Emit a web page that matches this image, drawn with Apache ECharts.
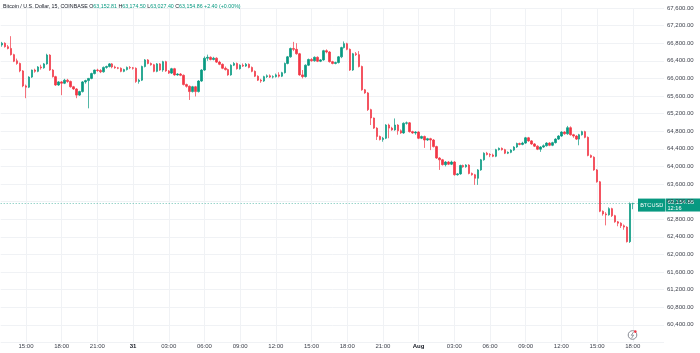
<!DOCTYPE html>
<html>
<head>
<meta charset="utf-8">
<script src="https://cdn.jsdelivr.net/npm/echarts@6/dist/echarts.min.js"></script>
<style>
  html, body { margin: 0; padding: 0; background: #fff; }
  #chart { width: 700px; height: 353px; }
</style>
</head>
<body>
<div id="chart"></div>
<script>
// BTCUSD 15 min candles, [open, close, low, high]
const jul30 = [
  [66760, 66800, 66720, 66830], [66800, 66720, 66700, 66820], [66720, 66680, 66660, 66760], [66680, 66540, 66520, 66960],
  [66540, 66390, 66370, 66560], [66400, 66340, 66310, 66450], [66340, 66170, 66140, 66360], [66170, 65830, 65800, 66190],
  [65830, 65800, 65550, 65860], [65800, 66030, 65780, 66050], [66030, 66190, 66010, 66200], [66190, 66160, 66130, 66220],
  [66160, 66260, 66140, 66280], [66260, 66240, 66200, 66310], [66240, 66330, 66220, 66350], [66330, 66530, 66310, 66560],
  [66530, 66190, 66170, 66550], [66190, 66040, 66020, 66210], [66040, 65850, 65830, 66060], [65850, 65920, 65830, 65940],
  [65920, 65890, 65620, 65940], [65890, 65960, 65870, 65990], [65960, 65930, 65900, 65990], [65930, 65810, 65790, 65950],
  [65810, 65760, 65740, 65830], [65760, 65620, 65550, 65780], [65620, 65700, 65600, 65720], [65700, 65920, 65680, 65940],
  [65920, 65950, 65880, 65970], [65950, 66000, 65320, 66010], [66000, 66110, 65980, 66130], [66110, 66190, 66090, 66200],
  [66190, 66180, 66150, 66220], [66180, 66150, 66120, 66210], [66150, 66250, 66130, 66270], [66250, 66270, 66220, 66290],
  [66270, 66330, 66250, 66350], [66330, 66260, 66230, 66350], [66260, 66240, 66220, 66290], [66240, 66230, 66210, 66260],
  [66230, 66160, 66140, 66250], [66160, 66200, 66140, 66220], [66200, 66250, 66180, 66270], [66250, 66240, 66210, 66280]
];

const jul31 = [
  [66240, 66230, 66200, 66260], [66230, 65930, 65900, 66250], [65930, 65960, 65880, 65990], [65960, 66270, 65940, 66290],
  [66270, 66420, 66250, 66440], [66420, 66340, 66320, 66440], [66340, 66310, 66290, 66360], [66310, 66160, 66140, 66330],
  [66160, 66330, 66140, 66350], [66330, 66190, 66170, 66350], [66190, 66380, 66150, 66400], [66380, 66170, 66150, 66400],
  [66170, 66120, 66100, 66190], [66120, 66220, 66100, 66240], [66220, 66080, 66060, 66240], [66080, 66100, 66060, 66120],
  [66100, 66070, 66050, 66120], [66070, 65860, 65840, 66090], [65860, 65820, 65790, 65880], [65820, 65700, 65510, 65840],
  [65700, 65810, 65680, 65830], [65810, 65700, 65590, 65830], [65700, 65940, 65680, 65960], [65940, 66190, 65920, 66210],
  [66190, 66460, 66170, 66500], [66460, 66480, 66400, 66540], [66480, 66430, 66410, 66500], [66430, 66460, 66410, 66490],
  [66460, 66370, 66350, 66480], [66370, 66320, 66300, 66400], [66320, 66230, 66210, 66340], [66230, 66200, 66180, 66270],
  [66200, 66080, 66060, 66220], [66080, 66300, 66060, 66320], [66300, 66340, 66280, 66370], [66340, 66220, 66200, 66360],
  [66220, 66300, 66200, 66320], [66300, 66280, 66260, 66340], [66280, 66320, 66260, 66350], [66320, 66250, 66230, 66340],
  [66250, 66160, 66140, 66270], [66160, 66050, 66030, 66180], [66050, 65960, 65940, 66070], [65960, 65940, 65900, 65990],
  [65940, 66040, 65920, 66060], [66040, 66060, 66010, 66090], [66060, 66030, 66010, 66090], [66030, 66040, 66000, 66070],
  [66040, 66080, 66020, 66110], [66080, 66050, 66020, 66140], [66050, 66130, 66030, 66150], [66130, 66340, 66110, 66360],
  [66340, 66490, 66320, 66510], [66490, 66680, 66470, 66700], [66680, 66660, 66620, 66830], [66660, 66560, 66540, 66800],
  [66560, 66080, 66060, 66580], [66080, 66040, 66000, 66190], [66040, 66300, 66020, 66320], [66300, 66430, 66280, 66450],
  [66430, 66400, 66380, 66460], [66400, 66480, 66380, 66500], [66480, 66390, 66370, 66500], [66390, 66420, 66370, 66440],
  [66420, 66630, 66400, 66650], [66630, 66600, 66570, 66660], [66600, 66380, 66360, 66620], [66380, 66340, 66320, 66400],
  [66340, 66360, 66320, 66380], [66360, 66490, 66340, 66510], [66490, 66700, 66460, 66720], [66700, 66790, 66680, 66840],
  [66790, 66660, 66640, 66810], [66660, 66190, 66170, 66680], [66190, 66560, 66170, 66580], [66560, 66540, 66510, 66600],
  [66540, 66270, 66250, 66620], [66270, 65740, 65720, 66290], [65740, 65670, 65650, 65760], [65670, 65290, 65260, 65690],
  [65290, 65100, 64940, 65310], [65100, 64870, 64850, 65110], [64870, 64680, 64600, 64890], [64680, 64610, 64590, 64700],
  [64610, 64640, 64560, 64670], [64640, 64940, 64620, 64960], [64940, 64870, 64640, 64970], [64870, 64830, 64810, 64900],
  [64830, 64940, 64810, 65090], [64940, 64810, 64720, 64960], [64810, 64760, 64740, 64840], [64760, 64980, 64740, 65000],
  [64980, 64990, 64950, 65020], [64990, 64790, 64770, 65010], [64790, 64760, 64740, 64810], [64760, 64780, 64720, 64800]
];

const aug1 = [
  [64780, 64640, 64620, 64800], [64640, 64680, 64620, 64700], [64680, 64600, 64420, 64700], [64600, 64630, 64580, 64650],
  [64630, 64600, 64370, 64650], [64600, 64450, 64430, 64620], [64450, 64190, 64170, 64470], [64190, 64150, 63920, 64210],
  [64150, 64040, 64020, 64170], [64040, 64100, 64000, 64120], [64100, 64050, 64030, 64120], [64050, 64100, 64030, 64130],
  [64100, 63810, 63790, 64120], [63810, 63830, 63790, 63850], [63830, 64020, 63810, 64040], [64020, 63990, 63970, 64040],
  [63990, 64030, 63970, 64050], [64030, 63840, 63820, 64050], [63840, 63810, 63790, 63860], [63810, 63730, 63580, 63830],
  [63730, 63920, 63580, 63940], [63920, 64150, 63900, 64170], [64150, 64300, 64130, 64320], [64300, 64270, 64250, 64330],
  [64270, 64260, 64210, 64300], [64260, 64230, 64210, 64290], [64230, 64380, 64210, 64400], [64380, 64410, 64360, 64430],
  [64410, 64380, 64360, 64430], [64380, 64300, 64280, 64400], [64300, 64320, 64280, 64340], [64320, 64370, 64300, 64390],
  [64370, 64440, 64350, 64460], [64440, 64520, 64420, 64540], [64520, 64500, 64480, 64540], [64500, 64530, 64480, 64560],
  [64530, 64650, 64510, 64670], [64650, 64580, 64560, 64670], [64580, 64510, 64490, 64600], [64510, 64460, 64440, 64530],
  [64460, 64390, 64370, 64480], [64390, 64440, 64330, 64460], [64440, 64470, 64420, 64500], [64470, 64530, 64450, 64550],
  [64530, 64480, 64460, 64550], [64480, 64540, 64460, 64560], [64540, 64620, 64520, 64640], [64620, 64690, 64600, 64710],
  [64690, 64780, 64670, 64800], [64780, 64740, 64720, 64800], [64740, 64880, 64720, 64920], [64880, 64720, 64700, 64910],
  [64720, 64690, 64650, 64740], [64690, 64620, 64600, 64710], [64620, 64720, 64480, 64740], [64720, 64790, 64700, 64810],
  [64790, 64660, 64640, 64810], [64660, 64250, 64230, 64680], [64250, 64210, 64190, 64270], [64210, 63920, 63900, 64230],
  [63920, 63650, 63630, 63940], [63650, 62980, 62960, 63670], [62980, 62920, 62880, 63000], [62920, 62900, 62660, 62960],
  [62900, 63040, 62880, 63070], [63040, 62880, 62850, 63060], [62880, 62740, 62720, 62900], [62740, 62710, 62640, 62760],
  [62710, 62650, 62600, 62730], [62650, 62620, 62560, 62680], [62620, 62290, 62270, 62640], [62290, 63152.46, 62260, 63180],
  [63152.81, 63154.86, 63027.40, 63174.50]
];

const symbolTitle = 'Bitcoin / U.S. Dollar, 15, COINBASE';
const symbolShort = 'BTCUSD';
const barCountdown = '12:16';
const firstBarTime = Date.UTC(2024, 6, 30, 13, 0);
const barMinutes = 15;
const emptyBarsRight = 10;
const monthNames = ['Jan', 'Feb', 'Mar', 'Apr', 'May', 'Jun', 'Jul', 'Aug', 'Sep', 'Oct', 'Nov', 'Dec'];

const upColor = '#089981';
const downColor = '#f23645';
const gridColor = '#f0f2f5';
const textColor = '#131722';
const font = 'Liberation Sans';
const titleSize = 5.3;

let candles = jul30.concat(jul31, aug1);

let pad = (n) => String(n).padStart(2, '0');
let times = [];
for (let i = 0; i < candles.length + emptyBarsRight; i++) {
  let d = new Date(firstBarTime + i * barMinutes * 60000);
  times.push(d.getUTCFullYear() + '-' + pad(d.getUTCMonth() + 1) + '-' + pad(d.getUTCDate()) + ' ' +
    pad(d.getUTCHours()) + ':' + pad(d.getUTCMinutes()));
}

let everyThreeHours = (idx, value) => value.slice(14) === '00' && Number(value.slice(11, 13)) % 3 === 0;

let timeLabel = (value) => {
  let hm = value.slice(11);
  if (hm === '00:00') {
    let day = Number(value.slice(8, 10));
    return '{day|' + (day === 1 ? monthNames[Number(value.slice(5, 7)) - 1] : day) + '}';
  }
  return hm;
};

let fmt = (v) => v.toLocaleString('en-US', { minimumFractionDigits: 2, maximumFractionDigits: 2 });

let last = candles[candles.length - 1];
let prevClose = candles[candles.length - 2][1];
let change = last[1] - prevClose;
let changePct = change / prevClose * 100;
let sign = change >= 0 ? '+' : '';

let chart = echarts.init(document.getElementById('chart'));

let option = {
  animation: false,
  backgroundColor: '#ffffff',
  title: {
    left: 3,
    top: 4,
    padding: 0,
    text: '{n|' + symbolTitle + ' }{k|O}{v|' + fmt(last[0]) + ' }{k|H}{v|' + fmt(last[3]) + ' }{k|L}{v|' +
      fmt(last[2]) + ' }{k|C}{v|' + fmt(last[1]) + ' ' + sign + fmt(change) + ' (' + sign + changePct.toFixed(2) + '%)}',
    textStyle: {
      fontFamily: font,
      fontSize: titleSize,
      fontWeight: 'normal',
      rich: {
        n: { fontFamily: font, fontSize: titleSize, fontWeight: 'normal', color: textColor },
        k: { fontFamily: font, fontSize: titleSize, fontWeight: 'normal', color: textColor },
        v: { fontFamily: font, fontSize: titleSize, fontWeight: 'normal', color: upColor }
      }
    }
  },
  grid: {
    left: 0.7,
    right: 36,
    top: 8,
    bottom: 10.6
  },
  xAxis: {
    type: 'category',
    data: times,
    boundaryGap: true,
    axisLine: { show: false },
    axisTick: { show: false },
    axisLabel: {
      interval: everyThreeHours,
      formatter: timeLabel,
      margin: 1,
      fontFamily: font,
      fontSize: 6,
      color: '#3b3f4a',
      rich: { day: { fontFamily: font, fontSize: 6, fontWeight: 'bold', color: textColor } }
    },
    splitLine: {
      show: true,
      interval: everyThreeHours,
      alignWithLabel: true,
      lineStyle: { color: gridColor, width: 1 }
    }
  },
  yAxis: {
    type: 'value',
    position: 'right',
    min: 60000,
    max: 67600,
    interval: 400,
    axisLine: { show: false },
    axisTick: { show: false },
    axisLabel: {
      showMinLabel: false,
      showMaxLabel: true,
      margin: 3,
      fontFamily: font,
      fontSize: 6,
      color: '#3b3f4a',
      formatter: (v) => fmt(v)
    },
    splitLine: { show: true, lineStyle: { color: gridColor, width: 1 } }
  },
  series: [{
    name: symbolShort,
    type: 'candlestick',
    data: candles,
    barWidth: 2,
    itemStyle: {
      color: upColor,
      color0: downColor,
      borderColor: upColor,
      borderColor0: downColor,
      borderWidth: 0.7
    },
    markLine: {
      silent: true,
      symbol: 'none',
      label: { show: false },
      lineStyle: { color: upColor, type: [1, 2], width: 1, opacity: 0.6 },
      data: [{ yAxis: last[1] }]
    }
  }]
};

chart.setOption(option);

// etiqueta del precio actual sobre la escala
let py = chart.convertToPixel({ yAxisIndex: 0 }, last[1]);
chart.setOption({
  graphic: [
    { type: 'rect', shape: { x: 638, y: py - 5, width: 27.5, height: 13 }, style: { fill: upColor } },
    { type: 'text', x: 651.7, y: py + 1.5, style: { text: symbolShort, fill: '#fff', fontFamily: font, fontSize: 5.6, align: 'center', verticalAlign: 'middle' } },
    { type: 'rect', shape: { x: 666, y: py - 5, width: 34, height: 13 }, style: { fill: upColor } },
    { type: 'text', x: 667.5, y: py - 1.5, style: { text: fmt(last[1]), fill: '#fff', fontFamily: font, fontSize: 6, verticalAlign: 'middle' } },
    { type: 'text', x: 667.5, y: py + 4.8, style: { text: barCountdown, fill: '#fff', fontFamily: font, fontSize: 5.6, verticalAlign: 'middle' } },
    { type: 'circle', shape: { cx: 632.5, cy: 335, r: 4.3 }, style: { fill: '#fff', stroke: '#6a6d78', lineWidth: 0.8 } },
    { type: 'polyline', shape: { points: [[633.5, 332], [631.3, 335.3], [633.6, 335.1], [631.6, 338.2]] }, style: { fill: null, stroke: '#6a6d78', lineWidth: 0.7 } },
    { type: 'circle', shape: { cx: 635.3, cy: 331.6, r: 1.3 }, style: { fill: downColor } }
  ]
});

window.addEventListener('resize', chart.resize);
</script>
</body>
</html>
